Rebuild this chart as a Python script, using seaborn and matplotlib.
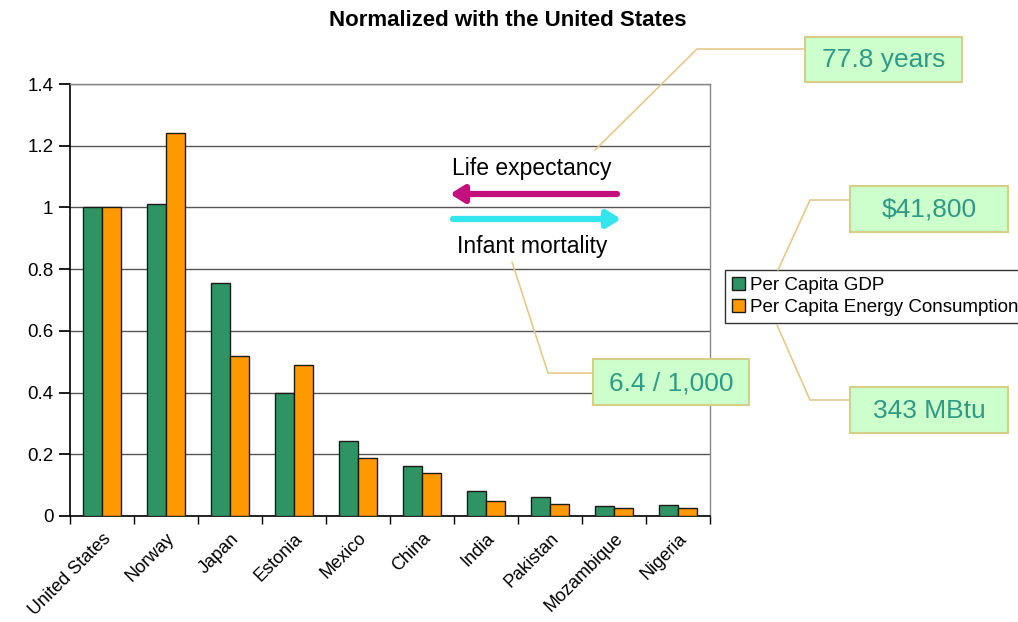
import numpy as np
import pandas as pd
import matplotlib
matplotlib.use('Agg')
import matplotlib.pyplot as plt
import seaborn as sns
from matplotlib.patches import Rectangle, FancyArrowPatch
from matplotlib.lines import Line2D
from matplotlib.ticker import FuncFormatter

countries = ['United States', 'Norway', 'Japan', 'Estonia', 'Mexico', 'China',
             'India', 'Pakistan', 'Mozambique', 'Nigeria']
gdp = [1.0, 1.01, 0.755, 0.40, 0.242, 0.163, 0.082, 0.063, 0.032, 0.036]
energy = [1.0, 1.24, 0.518, 0.49, 0.187, 0.138, 0.048, 0.040, 0.025, 0.025]
series = ['Per Capita GDP', 'Per Capita Energy Consumption']
colors = ['#2e9464', '#ff9900']
yticks = [0, 0.2, 0.4, 0.6, 0.8, 1.0, 1.2, 1.4]
title = 'Normalized with the United States'
callouts = ['77.8 years', '$41,800', '6.4 / 1,000', '343 MBtu']
arrow_labels = ['Life expectancy', 'Infant mortality']

sns.set_theme(style='white')
plt.rcParams['font.family'] = ['Liberation Sans', 'DejaVu Sans']
plt.rcParams['text.color'] = 'black'
plt.rcParams['xtick.color'] = 'black'
plt.rcParams['ytick.color'] = 'black'
plt.rcParams['xtick.labelcolor'] = 'black'
plt.rcParams['ytick.labelcolor'] = 'black'

W, H = 1018, 622
fig = plt.figure(figsize=(W / 100, H / 100), dpi=100)


def px(x, y):
    return x / W, 1 - y / H


ax = fig.add_axes([70 / W, 1 - 516 / H, 640 / W, 432 / H])
df = pd.DataFrame({
    'Country': countries * 2,
    'Series': [series[0]] * len(countries) + [series[1]] * len(countries),
    'Value': gdp + energy,
})
sns.barplot(data=df, x='Country', y='Value', hue='Series', hue_order=series,
            palette=colors, saturation=1, width=0.6, gap=0, edgecolor='#1a1a1a',
            linewidth=1, errorbar=None, ax=ax, zorder=3)

ax.set_ylim(0, 1.4)
ax.set_xlim(-0.5, len(countries) - 0.5)
ax.set_yticks(yticks)
ax.yaxis.set_major_formatter(FuncFormatter(lambda v, p: f'{v:g}'))
ax.yaxis.grid(True, color='#555555', lw=1, zorder=0)
ax.set_axisbelow(True)
ax.set_xlabel('')
ax.set_ylabel('')
ax.set_xticks(range(len(countries)))
ax.set_xticklabels(countries, rotation=45, ha='right', rotation_mode='anchor', fontsize=13)
ax.set_xticks(np.arange(-0.5, len(countries), 1), minor=True)
ax.tick_params(axis='x', which='major', length=0, pad=10)
ax.tick_params(axis='x', which='minor', bottom=True, length=6, direction='out', color='black')
ax.tick_params(axis='y', left=True, length=8, direction='out', color='black', labelsize=13.5, pad=4)
for s in ['left', 'bottom']:
    ax.spines[s].set_color('black')
    ax.spines[s].set_linewidth(1.2)
for s in ['top', 'right']:
    ax.spines[s].set_color('#888888')
    ax.spines[s].set_linewidth(1)

leg = ax.legend(loc='upper left', bbox_to_anchor=px(725, 270), bbox_transform=fig.transFigure,
                frameon=True, fancybox=False, edgecolor='black', fontsize=13.5,
                handlelength=0.7, handleheight=0.7, handletextpad=0.3, borderpad=0.35,
                labelspacing=0.3, borderaxespad=0)
leg.get_frame().set_linewidth(1)
leg.set_title(None)

fig.text(*px(508, 20), title, ha='center', va='center', fontweight='bold', fontsize=16)

# leader lines
line_col = '#e6c98a'
leaders = [
    [(595, 150), (697, 49), (805, 49)],
    [(778, 270), (810, 200), (850, 200)],
    [(512, 262), (548, 373), (593, 373)],
    [(777, 325), (810, 400), (850, 400)],
]
for pts in leaders:
    xs = [px(x, y)[0] for x, y in pts]
    ys = [px(x, y)[1] for x, y in pts]
    fig.add_artist(Line2D(xs, ys, transform=fig.transFigure, color=line_col, lw=1.2, zorder=4))

boxes = [(805, 37, 962, 82), (850, 186, 1008, 232), (593, 359, 749, 405), (850, 387, 1008, 433)]
for (x0, y0, x1, y1), txt in zip(boxes, callouts):
    fx0, fy1 = px(x0, y1)
    rect = Rectangle((fx0, fy1), (x1 - x0) / W, (y1 - y0) / H, transform=fig.transFigure,
                     fc='#ccffcc', ec='#d6cf86', lw=1.5, zorder=5)
    fig.add_artist(rect)
    fig.text(*px((x0 + x1) / 2, (y0 + y1) / 2 + 1), txt, ha='center', va='center',
             fontsize=19, color='#2e9a88', zorder=6)

# arrows
fig.add_artist(FancyArrowPatch(px(617, 194), px(450, 194), transform=fig.transFigure,
                               arrowstyle='-|>,head_length=8,head_width=5', color='#c4107c',
                               lw=4.5, zorder=5, shrinkA=0, shrinkB=0))
fig.add_artist(FancyArrowPatch(px(453, 219), px(621, 219), transform=fig.transFigure,
                               arrowstyle='-|>,head_length=8,head_width=5', color='#33e6ee',
                               lw=4.5, zorder=5, shrinkA=0, shrinkB=0))
fig.text(*px(532, 168), arrow_labels[0], ha='center', va='center', fontsize=16.5, zorder=6)
fig.text(*px(532, 247), arrow_labels[1], ha='center', va='center', fontsize=16.5, zorder=6)

fig.savefig('out.png', dpi=100, facecolor='white')
